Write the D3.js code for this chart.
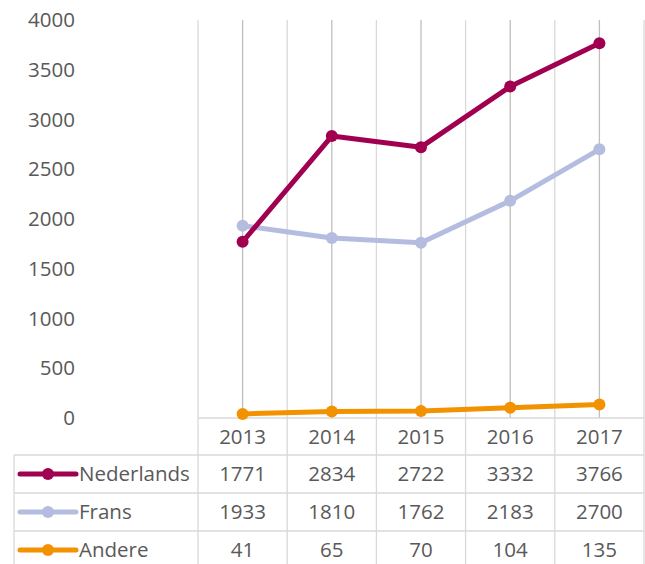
<!DOCTYPE html>
<meta charset="utf-8">
<style>
  body { margin: 0; background: #fff; }
  svg { font-family: "Open Sans", sans-serif; font-size: 20.5px; }
  text { fill: #595959; }
  .axis path { display: none; }
  .grid-major { stroke: #bfbfbf; stroke-width: 1.3; }
  .grid-minor, .cellline { stroke: #d9d9d9; stroke-width: 1.3; }
  .series path { fill: none; stroke-width: 5; stroke-linejoin: round; }
</style>
<body>
<script src="https://cdn.jsdelivr.net/npm/d3@7"></script>
<script>
  var years = ["2013", "2014", "2015", "2016", "2017"];
  var yTicks = [0, 500, 1000, 1500, 2000, 2500, 3000, 3500, 4000];
  var names = ["Nederlands", "Frans", "Andere"];
  var colors = ["#a0004f", "#b4bde0", "#f39200"];
  var nederlands = [1771, 2834, 2722, 3332, 3766];
  var frans = [1933, 1810, 1762, 2183, 2700];
  var andere = [41, 65, 70, 104, 135];

  var series = [nederlands, frans, andere].map(function (v, i) {
    return { name: names[i], color: colors[i], values: v };
  });

  var width = 645, height = 564;
  var plotLeft = 198, plotRight = 644, plotTop = 20, zero = 418;
  // data table rows
  var rowTops = [418, 455, 493, 531, 569];
  var tableLeft = 14;

  var svg = d3.select("body").append("svg")
    .attr("width", width)
    .attr("height", height);

  var x = d3.scaleBand().domain(years).range([plotLeft, plotRight]);
  var y = d3.scaleLinear().domain([0, 4000]).range([zero, plotTop]);

  // category boundary lines (light)
  var bounds = d3.range(years.length + 1).map(function (i) { return plotLeft + i * x.bandwidth(); });
  svg.selectAll(".grid-minor")
    .data(bounds)
    .enter().append("line")
    .attr("class", "grid-minor")
    .attr("x1", function (d) { return d; })
    .attr("x2", function (d) { return d; })
    .attr("y1", plotTop)
    .attr("y2", height);

  // major gridlines at category centres
  svg.selectAll(".grid-major")
    .data(years)
    .enter().append("line")
    .attr("class", "grid-major")
    .attr("x1", function (d) { return x(d) + x.bandwidth() / 2; })
    .attr("x2", function (d) { return x(d) + x.bandwidth() / 2; })
    .attr("y1", plotTop)
    .attr("y2", zero);

  // table horizontal lines
  svg.selectAll(".cellline")
    .data(rowTops)
    .enter().append("line")
    .attr("class", "cellline")
    .attr("x1", function (d, i) { return i === 0 ? plotLeft : tableLeft; })
    .attr("x2", plotRight)
    .attr("y1", function (d) { return d; })
    .attr("y2", function (d) { return d; });

  svg.append("line")
    .attr("class", "cellline")
    .attr("x1", tableLeft).attr("x2", tableLeft)
    .attr("y1", rowTops[1]).attr("y2", height);

  // y axis
  svg.append("g")
    .attr("class", "axis")
    .attr("transform", "translate(75,0)")
    .call(d3.axisLeft(y).tickValues(yTicks).tickSize(0).tickPadding(0).tickFormat(d3.format("d")))
    .selectAll("text")
    .style("font-size", "20.5px")
    .style("font-family", "\"Open Sans\", sans-serif")
    .attr("fill", "#595959");

  // lines
  var line = d3.line()
    .x(function (d, i) { return x(years[i]) + x.bandwidth() / 2; })
    .y(function (d) { return y(d); });

  var g = svg.selectAll(".series")
    .data(series.slice().reverse())
    .enter().append("g")
    .attr("class", "series");

  g.append("path")
    .attr("d", function (d) { return line(d.values); })
    .attr("stroke", function (d) { return d.color; });

  g.selectAll("circle")
    .data(function (d) { return d.values.map(function (v) { return { v: v, c: d.color }; }); })
    .enter().append("circle")
    .attr("cx", function (d, i) { return x(years[i]) + x.bandwidth() / 2; })
    .attr("cy", function (d) { return y(d.v); })
    .attr("r", 6)
    .attr("fill", function (d) { return d.c; });

  // header row
  svg.selectAll(".year")
    .data(years)
    .enter().append("text")
    .attr("class", "year")
    .attr("x", function (d) { return x(d) + x.bandwidth() / 2; })
    .attr("y", (rowTops[0] + rowTops[1]) / 2)
    .attr("dy", "0.35em")
    .attr("text-anchor", "middle")
    .text(function (d) { return d; });

  // series rows
  var rows = svg.selectAll(".row")
    .data(series)
    .enter().append("g")
    .attr("class", "row")
    .attr("transform", function (d, i) {
      return "translate(0," + (rowTops[i + 1] + rowTops[i + 2]) / 2 + ")";
    });

  rows.append("line")
    .attr("x1", 20).attr("x2", 76)
    .attr("stroke", function (d) { return d.color; })
    .attr("stroke-width", 5)
    .attr("stroke-linecap", "round");

  rows.append("circle")
    .attr("cx", 48)
    .attr("r", 6)
    .attr("fill", function (d) { return d.color; });

  rows.append("text")
    .attr("x", 79)
    .attr("dy", "0.35em")
    .text(function (d) { return d.name; });

  rows.selectAll(".val")
    .data(function (d) { return d.values; })
    .enter().append("text")
    .attr("class", "val")
    .attr("x", function (d, i) { return x(years[i]) + x.bandwidth() / 2; })
    .attr("dy", "0.35em")
    .attr("text-anchor", "middle")
    .text(function (d) { return d; });
</script>
</body>
